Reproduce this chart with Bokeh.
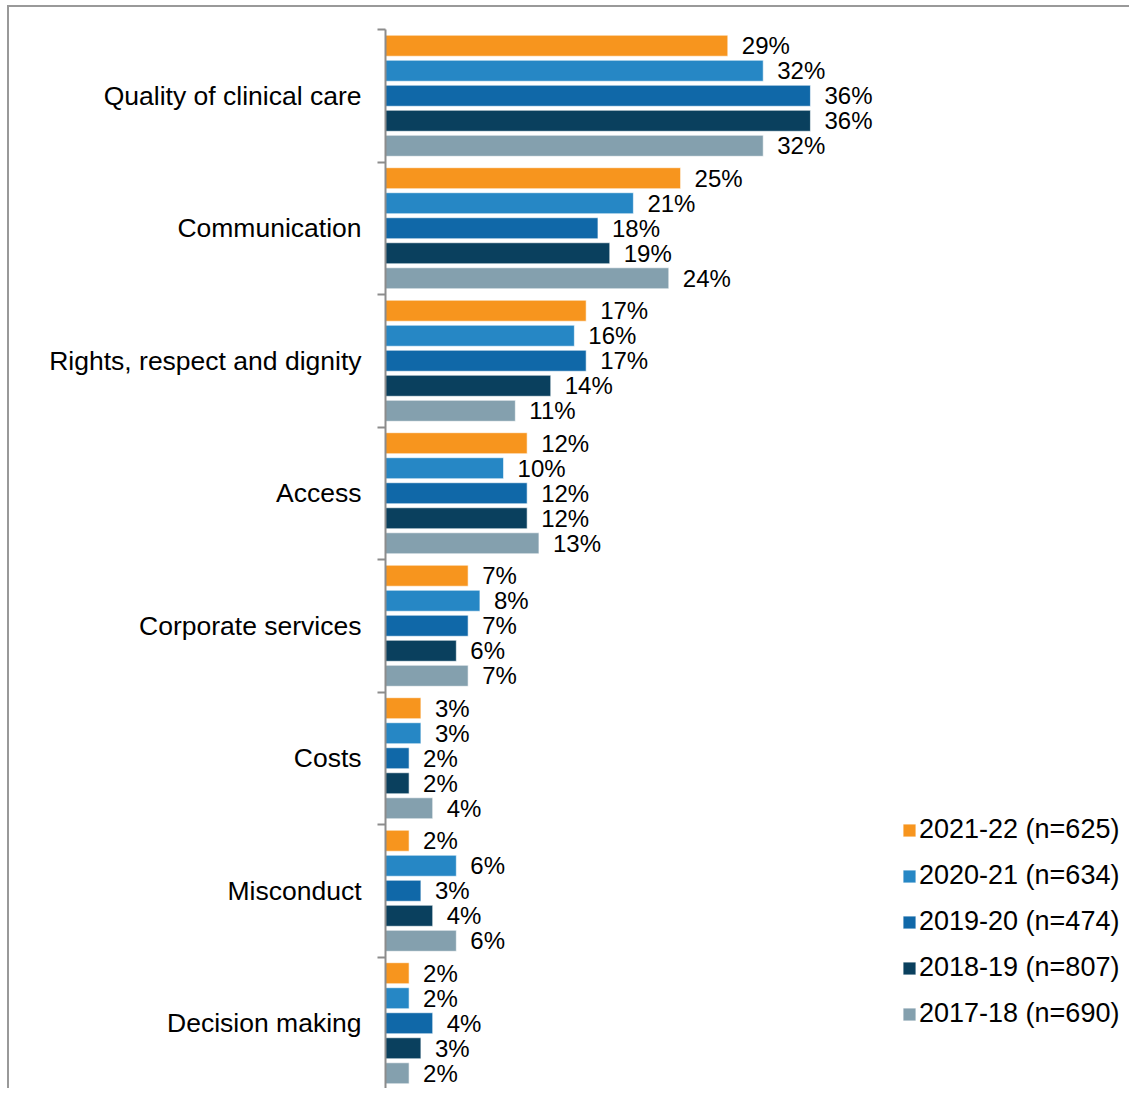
from bokeh.plotting import figure
from bokeh.models import Range1d, FixedTicker, ColumnDataSource, Legend, LegendItem
from bokeh.core.properties import value
from bokeh.embed import file_html
from bokeh.resources import INLINE

categories = ["Quality of clinical care", "Communication", "Rights, respect and dignity",
              "Access", "Corporate services", "Costs", "Misconduct", "Decision making"]
series_names = ["2021-22 (n=625)", "2020-21 (n=634)", "2019-20 (n=474)",
                "2018-19 (n=807)", "2017-18 (n=690)"]
s2021_22 = [29, 25, 17, 12, 7, 3, 2, 2]
s2020_21 = [32, 21, 16, 10, 8, 3, 6, 2]
s2019_20 = [36, 18, 17, 12, 7, 2, 3, 4]
s2018_19 = [36, 19, 14, 12, 6, 2, 4, 3]
s2017_18 = [32, 24, 11, 13, 7, 4, 6, 2]
colors = ["#F7951E", "#2687C5", "#1068A8", "#0A405E", "#84A0AE"]

all_series = [s2021_22, s2020_21, s2019_20, s2018_19, s2017_18]

FONT = "Liberation Sans"
W, H = 1122, 1083

p = figure(width=W, height=H, output_backend="svg", toolbar_location=None,
           x_range=Range1d(0, 63.2), y_range=Range1d(8, 0),
           x_axis_location=None, min_border_left=376, min_border_top=22,
           min_border_bottom=1, min_border_right=0)
p.margin = (5, 0, 0, 7)
p.styles = {"border-top": "2px solid #999999", "border-left": "2px solid #999999"}
p.outline_line_color = None
p.xgrid.visible = False
p.ygrid.visible = False
p.background_fill_color = "white"
p.border_fill_color = "white"

centers = [i + 0.5 for i in range(len(categories))]
pitch = 0.1888
bar_h = 0.1586

items = []
for j, (vals, name, col) in enumerate(zip(all_series, series_names, colors)):
    ys = [c + (j - 2) * pitch for c in centers]
    src = ColumnDataSource(dict(y=ys, v=vals, lab=[f"{v}%" for v in vals]))
    r = p.hbar(y="y", right="v", left=0, height=bar_h, source=src,
               fill_color=col, line_color="white", line_alpha=0.6, line_width=1)
    p.text(x="v", y="y", text="lab", source=src, x_offset=14,
           text_baseline="middle", text_align="left",
           text_font=value(FONT), text_font_size="24px", text_color="#000000")
    items.append(LegendItem(label=name, renderers=[r]))

ax = p.yaxis[0]
ax.ticker = FixedTicker(ticks=centers, minor_ticks=list(range(len(categories) + 1)))
ax.major_label_overrides = {c: name for c, name in zip(centers, categories)}
ax.major_tick_line_color = None
ax.major_tick_out = 0
ax.major_tick_in = 0
ax.minor_tick_line_color = "#8c8c8c"
ax.minor_tick_line_width = 2
ax.minor_tick_out = 8
ax.minor_tick_in = 0
ax.axis_line_color = "#8c8c8c"
ax.axis_line_width = 2
ax.major_label_standoff = 16
ax.major_label_text_font = FONT
ax.major_label_text_font_size = "26.5px"
ax.major_label_text_color = "#000000"

legend = Legend(items=items, location=(516, 60), glyph_width=16, glyph_height=16,
                label_standoff=2, spacing=15, padding=0, margin=0,
                border_line_color=None, background_fill_alpha=0,
                label_text_font=FONT, label_text_font_size="27px",
                label_text_color="#000000")
p.add_layout(legend)

open("out.html", "w").write(file_html(p, INLINE))
